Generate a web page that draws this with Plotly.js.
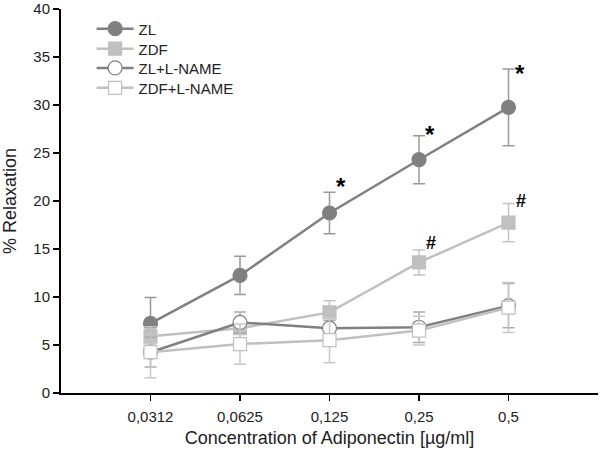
<!DOCTYPE html>
<html><head><meta charset="utf-8">
<script src="https://cdn.plot.ly/plotly-3.0.1.min.js"></script>
<style>body{margin:0;background:#fff}#c{width:600px;height:450px}</style>
</head><body><div id="c"></div>
<script>
var categories = ["0,0312", "0,0625", "0,125", "0,25", "0,5"];
var seriesNames = ["ZL", "ZDF", "ZL+L-NAME", "ZDF+L-NAME"];
var zl = [7.25, 12.25, 18.75, 24.3, 29.75];
var zlErr = [2.7, 2.0, 2.15, 2.5, 4.0];
var zdf = [5.9, 6.75, 8.4, 13.6, 17.75];
var zdfErr = [0.8, 1.0, 1.2, 1.3, 2.0];
var zlL = [4.25, 7.35, 6.75, 6.85, 9.1];
var zlLErr = [1.55, 1.1, 0.8, 1.6, 2.3];
var zdfL = [4.25, 5.1, 5.5, 6.5, 8.9];
var zdfLErr = [2.65, 2.1, 2.35, 1.5, 2.6];
// significance marks: category and height (data units)
var starCats = ["0,125", "0,25", "0,5"];
var starY = [21.9, 27.3, 33.75];
var hashCats = ["0,25", "0,5"];
var hashY = [15.6, 20.0];

var dark = "#808080", light = "#c0c0c0";
var FONT = "Liberation Sans, Arial, sans-serif";
function tr(name, y, err, sym, mcol, lcol, ecol, fill, lg){
  return {x: categories, y: y, name: name, type: "scatter", mode: "lines+markers", legend: lg,
    line: {color: lcol, width: 2.5},
    marker: {symbol: sym, size: sym.indexOf("circle")===0 ? 14 : 13, color: fill, line: {color: mcol, width: 1.2}},
    error_y: {type: "data", array: err, visible: true, color: ecol, thickness: 1.5, width: 6}};
}
var data = [
  tr(seriesNames[0], zl, zlErr, "circle", dark, dark, "#999999", dark, "legend"),
  tr(seriesNames[1], zdf, zdfErr, "square", light, light, "#c4c4c4", light, "legend2"),
  tr(seriesNames[2], zlL, zlLErr, "circle", dark, dark, "#aaaaaa", "#ffffff", "legend3"),
  tr(seriesNames[3], zdfL, zdfLErr, "square", light, light, "#c8c8c8", "#ffffff", "legend4")
];
var ann = [];
starCats.forEach(function(c, i){
  ann.push({x: c, y: starY[i], xref: "x", yref: "y", text: "<b>*</b>", showarrow: false,
    font: {size: 24, color: "#000", family: FONT}, xshift: 11, yshift: -4});
});
hashCats.forEach(function(c, i){
  ann.push({x: c, y: hashY[i], xref: "x", yref: "y", text: "<b>#</b>", showarrow: false,
    font: {size: 18, color: "#000", family: FONT}, xshift: 12, yshift: 0});
});
function lg(y){
  return {x: 0.057, y: y, xanchor: "left", yanchor: "middle", bgcolor: "rgba(0,0,0,0)",
    font: {size: 15, color: "#222", family: FONT}, itemwidth: 37};
}
var layout = {
  width: 600, height: 450,
  margin: {l: 61, r: 2, t: 9, b: 57},
  paper_bgcolor: "#fff", plot_bgcolor: "#fff",
  font: {family: FONT, size: 15, color: "#222"},
  showlegend: true,
  legend: lg(0.948), legend2: lg(0.896), legend3: lg(0.846), legend4: lg(0.794),
  xaxis: {type: "category", range: [-1, 5], showgrid: false, zeroline: false,
    showline: true, linecolor: "#000", linewidth: 2, ticks: "outside", ticklen: 6, tickwidth: 1.5, tickcolor: "#000",
    tickfont: {size: 15, color: "#222"}, ticklabelstandoff: 3,
    title: {text: "Concentration of Adiponectin [µg/ml]", font: {size: 18, color: "#222"}, standoff: 7}},
  yaxis: {range: [0, 40], dtick: 5, showgrid: false, zeroline: false,
    showline: true, linecolor: "#000", linewidth: 2, ticks: "outside", ticklen: 6, tickwidth: 1.5, tickcolor: "#000",
    tickfont: {size: 15, color: "#222"},
    title: {text: "% Relaxation", font: {size: 18, color: "#222"}, standoff: 12}},
  annotations: ann
};
Plotly.newPlot("c", data, layout, {staticPlot: true});
</script></body></html>
